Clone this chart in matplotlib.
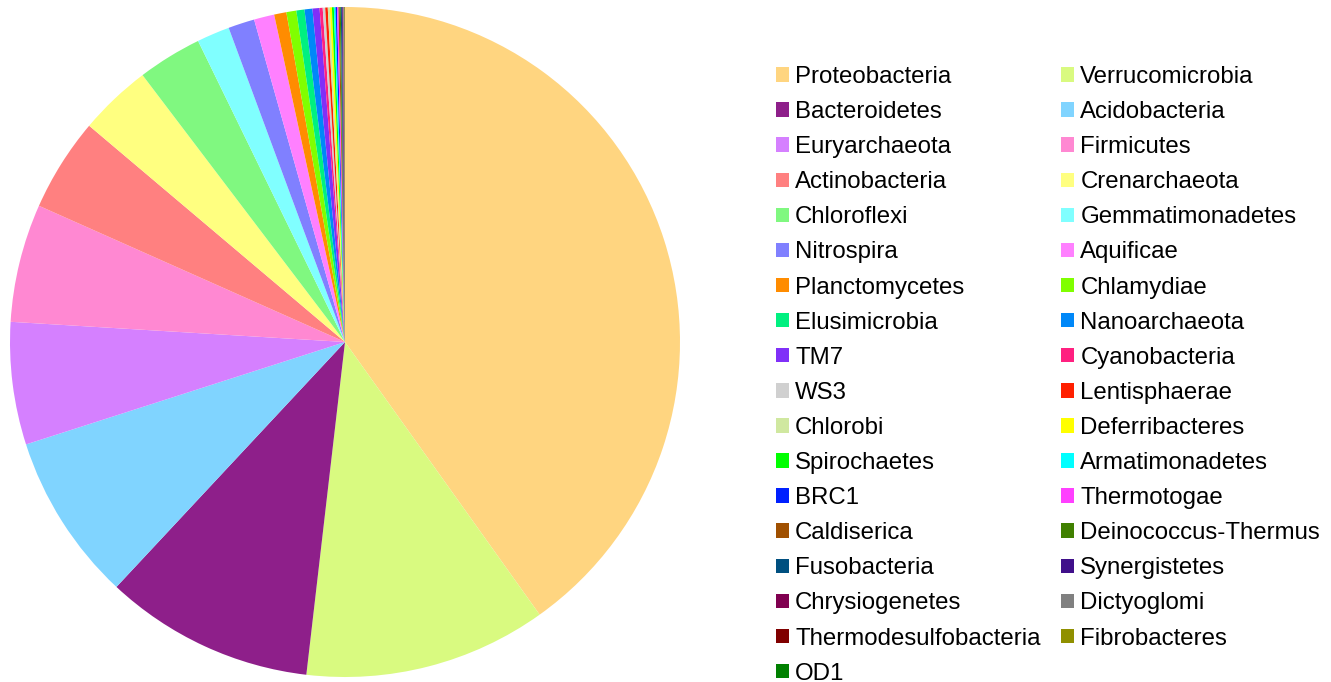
import matplotlib
matplotlib.use("Agg")
import matplotlib.pyplot as plt
from matplotlib.patches import Patch

labels = ["Proteobacteria", "Verrucomicrobia", "Bacteroidetes", "Acidobacteria",
          "Euryarchaeota", "Firmicutes", "Actinobacteria", "Crenarchaeota",
          "Chloroflexi", "Gemmatimonadetes", "Nitrospira", "Aquificae",
          "Planctomycetes", "Chlamydiae", "Elusimicrobia", "Nanoarchaeota",
          "TM7", "Cyanobacteria", "WS3", "Lentisphaerae", "Chlorobi",
          "Deferribacteres", "Spirochaetes", "Armatimonadetes", "BRC1",
          "Thermotogae", "Caldiserica", "Deinococcus-Thermus", "Fusobacteria",
          "Synergistetes", "Chrysiogenetes", "Dictyoglomi",
          "Thermodesulfobacteria", "Fibrobacteres", "OD1"]

values = [40.1, 11.7, 10.1, 8.1, 5.9, 5.7, 4.5, 3.5, 3.1, 1.58, 1.27, 0.98,
          0.59, 0.48, 0.39, 0.38, 0.34, 0.15, 0.12, 0.12, 0.10, 0.10, 0.09,
          0.08, 0.07, 0.07, 0.06, 0.05, 0.05, 0.04, 0.03, 0.03, 0.02, 0.02, 0.01]

colors = ["#FFD580", "#D9FA80", "#8E1F8A", "#80D4FF", "#D580FF", "#FF88D2",
          "#FF8080", "#FFFF80", "#80F880", "#80FFFF", "#8080FF", "#FF80FF",
          "#FF8C00", "#80FF00", "#00F080", "#0088F8", "#8030F8", "#FF2080",
          "#D0D0D0", "#FF2000", "#D0E8A0", "#FFFF00", "#00FF00", "#00FFFF",
          "#0020FF", "#FF40FF", "#A05000", "#408000", "#005080", "#40108A",
          "#800050", "#808080", "#800000", "#909000", "#008000"]

plt.rcParams['font.family'] = ['Liberation Sans', 'DejaVu Sans']

fig = plt.figure(figsize=(13.31, 6.82), dpi=100)
ax = fig.add_axes([10 / 1331, 5 / 682, 670 / 1331, 670 / 682])
ax.pie(values, colors=colors, startangle=90, counterclock=False,
       wedgeprops=dict(linewidth=0))
ax.set_xlim(-1, 1)
ax.set_ylim(-1, 1)
ax.set_aspect('equal')

handles = [Patch(facecolor=c, edgecolor='none', label=l) for l, c in zip(labels, colors)]
# reference legend is filled row-wise across 2 columns
col1 = handles[0::2]
col2 = handles[1::2]
ordered = col1 + col2
fig.legend(handles=ordered, labels=[h.get_label() for h in ordered],
           ncol=2, loc='upper left', bbox_to_anchor=(776 / 1331, 1 - 66 / 682),
           frameon=False, fontsize=17.3, borderpad=0, borderaxespad=0,
           handlelength=0.55, handleheight=0.55, handletextpad=0.25,
           columnspacing=0.85, labelspacing=0.545)

fig.savefig("out.png", dpi=100)
